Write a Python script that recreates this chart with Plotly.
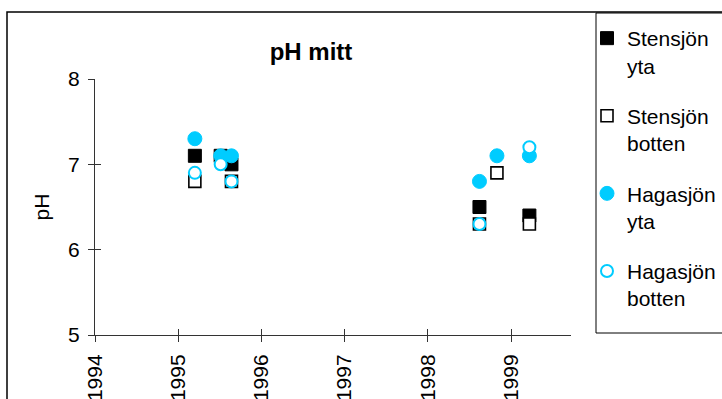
import plotly.graph_objects as go

# Sampling dates as decimal years
st_yta_x = [1995.20, 1995.51, 1995.64, 1998.62, 1999.22]
st_yta_y = [7.1, 7.1, 7.0, 6.5, 6.4]

st_bot_x = [1995.20, 1995.64, 1998.62, 1998.83, 1999.22]
st_bot_y = [6.8, 6.8, 6.3, 6.9, 6.3]

hs_yta_x = [1995.20, 1995.51, 1995.64, 1998.62, 1998.83, 1999.22]
hs_yta_y = [7.3, 7.1, 7.1, 6.8, 7.1, 7.1]

hs_bot_x = [1995.20, 1995.51, 1995.64, 1998.62, 1999.22]
hs_bot_y = [6.9, 7.0, 6.8, 6.3, 7.2]

year_ticks = [1994, 1995, 1996, 1997, 1998, 1999]
ph_ticks = [5, 6, 7, 8]

FONT = "Liberation Sans, Arial, sans-serif"
CYAN = "#00CCFF"
AX = "#333333"

fig = go.Figure()

series = [
    ("Stensjön<br>yta", st_yta_x, st_yta_y,
     dict(symbol="square", size=13, color="black", line=dict(color="black", width=1))),
    ("Stensjön<br>botten", st_bot_x, st_bot_y,
     dict(symbol="square", size=12, color="white", line=dict(color="black", width=1.6))),
    ("Hagasjön<br>yta", hs_yta_x, hs_yta_y,
     dict(symbol="circle", size=14, color=CYAN, line=dict(color=CYAN, width=1))),
    ("Hagasjön<br>botten", hs_bot_x, hs_bot_y,
     dict(symbol="circle", size=12, color="white", line=dict(color=CYAN, width=2))),
]
for i, (name, xs, ys, mk) in enumerate(series):
    fig.add_trace(go.Scatter(x=xs, y=ys, mode="markers", name=name,
                             marker=mk, legendgroup=f"g{i}"))

# invisible trace so the overlay axes (inner half of the cross ticks) are drawn
fig.add_trace(go.Scatter(x=[year_ticks[0]], y=[ph_ticks[0]], xaxis="x2", yaxis="y2",
                         mode="markers", marker=dict(opacity=0), showlegend=False,
                         hoverinfo="skip"))

xr = [1994, 1999.72]
yr = [5, 8]

fig.update_layout(
    width=722, height=399,
    margin=dict(l=95, r=151, t=79, b=64, autoexpand=False),
    paper_bgcolor="white", plot_bgcolor="white",
    font=dict(family=FONT, size=21, color="black"),
    title=dict(text="<b>pH mitt</b>", x=(311 - 95) / 476, xref="paper", xanchor="center",
               y=1 - 52 / 399, yanchor="middle", font=dict(size=24)),
    xaxis=dict(range=xr, tickvals=year_ticks, ticktext=[str(v) for v in year_ticks],
               tickangle=-90, ticks="outside", ticklen=6, tickcolor=AX,
               showline=True, linecolor=AX, linewidth=1, showgrid=False,
               zeroline=False, tickfont=dict(size=21), automargin=False,
               ticklabelstandoff=4),
    yaxis=dict(range=yr, tickvals=ph_ticks, ticks="outside", ticklen=6, tickcolor=AX,
               showline=True, linecolor=AX, linewidth=1, showgrid=False,
               zeroline=False, tickfont=dict(size=21), automargin=False,
               ticklabelstandoff=4,
               title=dict(text="pH", standoff=12, font=dict(size=21))),
    xaxis2=dict(range=xr, overlaying="x", tickvals=year_ticks, ticks="inside", ticklen=6,
                tickcolor=AX, showticklabels=False, showgrid=False, zeroline=False,
                anchor="y2", side="bottom", automargin=False),
    yaxis2=dict(range=yr, overlaying="y", tickvals=ph_ticks, ticks="inside", ticklen=6,
                tickcolor=AX, showticklabels=False, showgrid=False, zeroline=False,
                anchor="x2", side="left", automargin=False),
    legend=dict(x=(587 - 95) / 476, xanchor="left", y=(335 - 18) / 256, yanchor="top",
                font=dict(size=21), valign="top", tracegroupgap=20, maxheight=1.0,
                bgcolor="rgba(0,0,0,0)", borderwidth=0),
    showlegend=True,
)

# chart frame and legend frame
px0 = lambda p: (p - 95) / 476
py0 = lambda p: (335 - p) / 256
fig.add_shape(type="rect", xref="paper", yref="paper",
              x0=px0(7), x1=px0(740), y0=py0(420), y1=py0(12),
              line=dict(color="black", width=1.5), fillcolor="rgba(0,0,0,0)", layer="below")
fig.add_shape(type="rect", xref="paper", yref="paper",
              x0=px0(596), x1=px0(740), y0=py0(333), y1=py0(13),
              line=dict(color="black", width=1), fillcolor="rgba(0,0,0,0)", layer="below")

fig.write_html("out.html")
